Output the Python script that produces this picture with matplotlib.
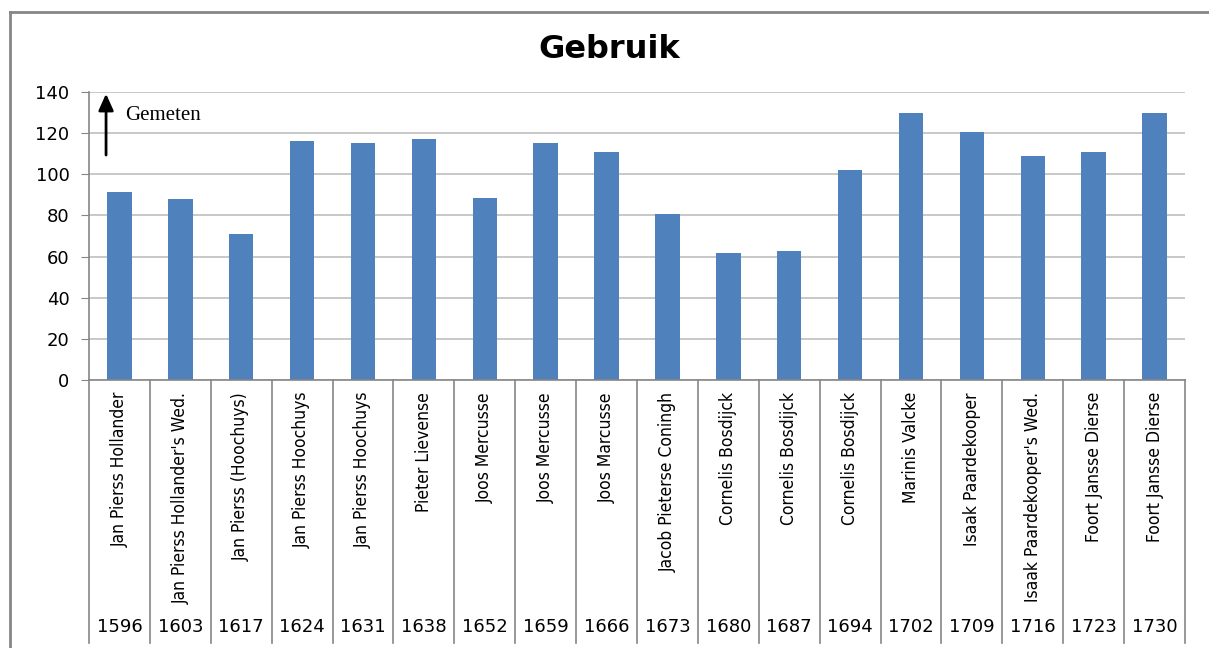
import matplotlib
matplotlib.use("Agg")
import matplotlib.pyplot as plt
from matplotlib.patches import Rectangle
import matplotlib.transforms as mtransforms

names = ["Jan Pierss Hollander", "Jan Pierss Hollander's Wed.", "Jan Pierss (Hoochuys)",
         "Jan Pierss Hoochuys", "Jan Pierss Hoochuys", "Pieter Lievense",
         "Joos Mercusse", "Joos Mercusse", "Joos Marcusse",
         "Jacob Pieterse Coningh", "Cornelis Bosdijck", "Cornelis Bosdijck",
         "Cornelis Bosdijck", "Marinis Valcke", "Isaak Paardekooper",
         "Isaak Paardekooper's Wed.", "Foort Jansse Dierse", "Foort Jansse Dierse"]
years = ["1596", "1603", "1617", "1624", "1631", "1638", "1652", "1659", "1666",
         "1673", "1680", "1687", "1694", "1702", "1709", "1716", "1723", "1730"]
gebruik = [91.2, 88.0, 70.8, 116.0, 115.2, 117.3, 88.7, 115.4, 110.7,
           80.7, 61.6, 62.9, 102.1, 129.8, 120.4, 108.9, 110.7, 129.8]

bar_col = "#4F81BD"
axis_col = "#868686"
grid_col = "#BFBFBF"

W, H = 1209, 648
fig = plt.figure(figsize=(W / 100, H / 100), dpi=100)
ax = fig.add_axes([89 / W, 1 - 380 / H, (1185 - 89) / W, (380 - 92) / H])

x = list(range(len(gebruik)))
ax.bar(x, gebruik, width=0.4, color=bar_col, zorder=2)
ax.set_xlim(-0.5, len(gebruik) - 0.5)
ax.set_ylim(0, 140)
ax.set_yticks(range(0, 141, 20))
ax.tick_params(axis="y", direction="out", length=6, color=axis_col,
               labelsize=13, pad=8)
ax.set_xticks([])
ax.yaxis.grid(True, color=grid_col, lw=1.2, zorder=0)
for s in ["top", "right"]:
    ax.spines[s].set_visible(False)
for s in ["left", "bottom"]:
    ax.spines[s].set_color(axis_col)
    ax.spines[s].set_linewidth(1.2)

# category table under the axis
trans = mtransforms.blended_transform_factory(ax.transData, ax.transAxes)
y_sep = (380 - 643) / 288
for b in range(len(gebruik) + 1):
    ax.plot([b - 0.5, b - 0.5], [0, y_sep], transform=trans, color=axis_col,
            lw=1.2, clip_on=False)
for i, (n, yr) in enumerate(zip(names, years)):
    ax.text(i, -12 / 288, n, transform=trans, rotation=90, ha="center",
            va="top", fontsize=12.5, fontstretch="condensed")
    ax.text(i, -247 / 288, yr, transform=trans, ha="center", va="center",
            fontsize=13)

# "Gemeten" box with arrow
ax.add_patch(Rectangle((-0.48, 106), 2.55, 35.5, facecolor="white",
                       edgecolor="none", zorder=1.5, clip_on=False))
ax.annotate("", xy=(-0.22, 140.5), xytext=(-0.22, 108),
            arrowprops=dict(arrowstyle="-|>,head_width=0.45,head_length=1.0",
                            color="black", lw=2), zorder=3, annotation_clip=False)
ax.text(0.1, 128.5, "Gemeten", family="Liberation Serif", fontsize=15,
        va="center", ha="left", zorder=3)

fig.text(609 / W, 1 - 49 / H, "Gebruik", ha="center", va="center",
         fontsize=23, fontweight="bold", family="DejaVu Sans")

# chart area border (left and top edges visible)
fig.add_artist(plt.Line2D([10 / W, 10 / W], [0, 1 - 12 / H], color=axis_col,
                          lw=2, transform=fig.transFigure))
fig.add_artist(plt.Line2D([10 / W, 1], [1 - 12 / H, 1 - 12 / H],
                          color=axis_col, lw=2, transform=fig.transFigure))

fig.savefig("out.png", dpi=100)
